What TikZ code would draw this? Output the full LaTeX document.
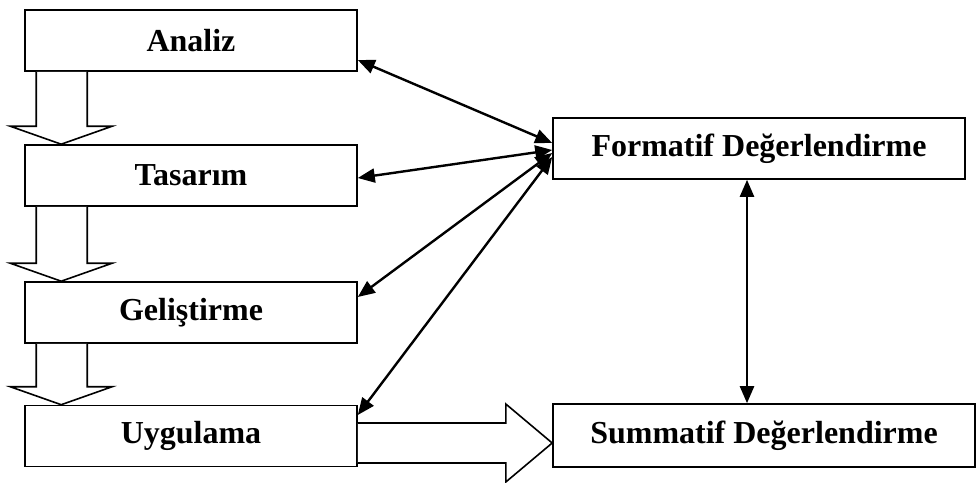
\documentclass[tikz,border=0pt]{standalone}
\usepackage{fontspec}
\setmainfont{Liberation Serif}
\usetikzlibrary{arrows.meta,calc}

% down-pointing hollow block arrow between two stacked boxes
\newcommand\downblock[2]{%
  \draw[blockarrow]
    ($(#1.south west)+(12,0)$) -- ($(#2.north west)+(12,-18)$)
    -- ($(#2.north west)+(-14,-18)$) -- ($(#2.north west)+(37,0)$)
    -- ($(#2.north west)+(88,-18)$) -- ($(#2.north west)+(63,-18)$)
    -- ($(#1.south west)+(63,0)$);}

\begin{document}
\begin{tikzpicture}[x=0.5pt,y=-0.5pt,
  box/.style={draw, line width=0.8pt, inner sep=0pt,
    font=\bfseries\fontsize{16}{20}\selectfont},
  phase/.style={box, minimum width=166pt, minimum height=30.5pt},
  blockarrow/.style={draw, line width=0.8pt, fill=white, line join=miter},
  link/.style={line width=1.2pt, {Triangle[length=8.5pt,width=7pt]}-{Triangle[length=8.5pt,width=7pt]}}]
\useasboundingbox (0,0) rectangle (977,482);

% ADDIE phases
\node[phase] (an) at (191,40.5)  {Analiz};
\node[phase] (ta) at (191,175.5) {Tasarım};
\node[phase] (ge) at (191,312.5) {Geliştirme};
\node[phase] (uy) at (191,436)   {Uygulama};

% evaluation boxes
\node[box, minimum width=206pt, minimum height=30.5pt] (fo) at (759,148.5) {Formatif Değerlendirme};
\node[box, minimum width=211pt, minimum height=31.5pt] (su) at (764,435.5) {Summatif Değerlendirme};

% flow between phases
\downblock{an}{ta}
\downblock{ta}{ge}
\downblock{ge}{uy}

% implementation feeds summative evaluation
\draw[blockarrow]
  ($(uy.east)+(0,-13)$) -- ($(uy.east)+(148,-13)$) -- ($(uy.east)+(148,-32)$)
  -- ($(su.west)+(0,7.5)$) -- ($(uy.east)+(148,46)$) -- ($(uy.east)+(148,27)$)
  -- ($(uy.east)+(0,27)$);

% formative evaluation links to every phase
\draw[link] ($(fo.west)+(0,-5.5)$) -- ($(an.east)+(0,19.5)$);
\draw[link] ($(fo.west)+(0,1.5)$)  -- ($(ta.east)+(0,2.5)$);
\draw[link] ($(fo.west)+(0,4.5)$)  -- ($(ge.east)+(0,-15.5)$);
\draw[link] ($(fo.west)+(0,8.5)$)  -- ($(uy.east)+(0,-21)$);

% formative <-> summative
\coordinate (fbase) at ($(fo.south)+(-12,0)$);
\draw[link] (fbase) -- (fbase |- su.north);
\end{tikzpicture}
\end{document}
